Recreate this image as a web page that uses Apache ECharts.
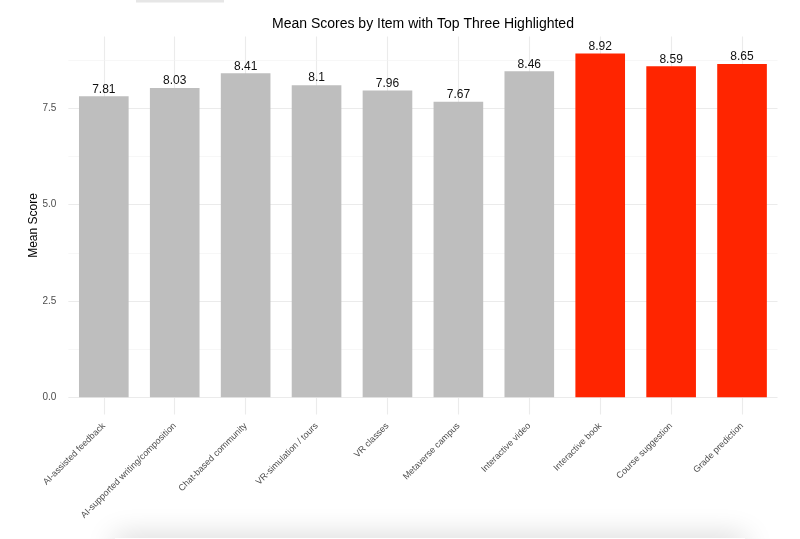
<!DOCTYPE html>
<html>
<head>
<meta charset="utf-8">
<script src="https://cdn.jsdelivr.net/npm/echarts@6/dist/echarts.min.js"></script>
<style>
html,body{margin:0;padding:0;background:#fff;}
#chart{width:800px;height:539px;}
</style>
</head>
<body>
<div id="chart"></div>
<script>
const categories = [
  'AI-assisted feedback',
  'AI-supported writing/composition',
  'Chat-based community',
  'VR-simulation / tours',
  'VR classes',
  'Metaverse campus',
  'Interactive video',
  'Interactive book',
  'Course suggestion',
  'Grade prediction'
];
const meanScores = [7.81, 8.03, 8.41, 8.10, 7.96, 7.67, 8.46, 8.92, 8.59, 8.65];
const yTickLabels = [0, 2.5, 5, 7.5];
const yMinorTicks = [1.25, 3.75, 6.25, 8.75];

const GRAY = '#bebebe';
const RED = '#ff2500';
const FONT = '"Liberation Sans", Arial, Helvetica, sans-serif';

const ranked = meanScores.map((v, i) => [v, i]).sort((a, b) => b[0] - a[0]);
const topSet = new Set(ranked.slice(0, 3).map(d => d[1]));

const maxVal = Math.max(...meanScores);
const yMax = maxVal * 1.05;
const yMin = -maxVal * 0.05;

const gridLines = [];
categories.forEach(c => gridLines.push({ xAxis: c, lineStyle: { color: '#ebebeb', width: 1.1, type: 'solid' } }));
yTickLabels.forEach(v => gridLines.push({ yAxis: v, lineStyle: { color: '#ebebeb', width: 1.1, type: 'solid' } }));
yMinorTicks.forEach(v => gridLines.push({ yAxis: v, lineStyle: { color: '#f2f2f2', width: 0.6, type: 'solid' } }));

const chart = echarts.init(document.getElementById('chart'), null, { renderer: 'canvas' });
chart.setOption({
  animation: false,
  backgroundColor: '#ffffff',
  textStyle: { fontFamily: FONT },
  title: {
    text: 'Mean Scores by Item with Top Three Highlighted',
    left: 267,
    top: 12,
    textStyle: { fontFamily: FONT, fontSize: 14, fontWeight: 'normal', color: '#000' }
  },
  grid: { left: 68.35, right: 22.5, top: 36.4, bottom: 124.5, containLabel: false },
  xAxis: {
    type: 'category',
    data: categories,
    boundaryGap: true,
    axisLine: { show: false },
    axisTick: { show: false },
    splitLine: { show: false },
    axisLabel: {
      rotate: 45,
      interval: 0,
      margin: 10,
      fontFamily: FONT,
      fontSize: 9,
      color: '#4d4d4d'
    }
  },
  yAxis: {
    type: 'value',
    min: yMin,
    max: yMax,
    name: 'Mean Score',
    nameLocation: 'middle',
    nameGap: 29,
    nameMoveOverlap: false,
    nameRotate: 90,
    nameTextStyle: { fontFamily: FONT, fontSize: 12, color: '#000' },
    axisLine: { show: false },
    axisTick: { show: false },
    splitLine: { show: false },
    axisLabel: {
      customValues: yTickLabels,
      margin: 12,
      fontFamily: FONT,
      fontSize: 10,
      color: '#4d4d4d',
      formatter: v => Number(v).toFixed(1)
    }
  },
  series: [{
    type: 'bar',
    z: 2,
    barWidth: '70%',
    data: meanScores.map((v, i) => ({ value: v, itemStyle: { color: topSet.has(i) ? RED : GRAY } })),
    label: {
      show: true,
      position: 'top',
      distance: 1,
      fontFamily: FONT,
      fontSize: 12,
      color: '#111',
      formatter: p => String(p.value)
    },
    markLine: {
      z: 1,
      silent: true,
      symbol: ['none', 'none'],
      label: { show: false },
      emphasis: { disabled: true },
      animation: false,
      data: gridLines
    }
  }],
  graphic: [
    { type: 'rect', z: 0, silent: true, shape: { x: 136, y: 0, width: 88, height: 2.5 }, style: { fill: '#e6e6e6' } },
    { type: 'rect', z: 0, silent: true, shape: { x: 115, y: 538, width: 630, height: 20 },
      style: { fill: '#ffffff', shadowBlur: 30, shadowColor: 'rgba(0,0,0,0.2)', shadowOffsetY: 0 } }
  ]
});
</script>
</body>
</html>
